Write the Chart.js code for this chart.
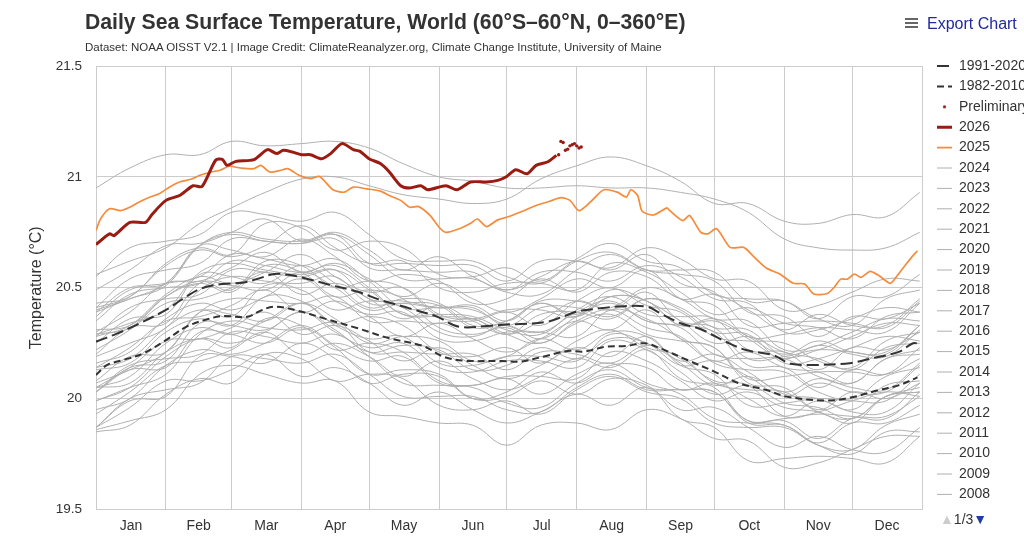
<!DOCTYPE html>
<html>
<head>
<meta charset="utf-8">
<title>Daily Sea Surface Temperature, World</title>
<script src="https://cdn.jsdelivr.net/npm/chart.js@4.4.1/dist/chart.umd.min.js"></script>
<style>
  html, body { margin: 0; padding: 0; background: #fff; overflow: hidden; }
  #wrap { position: relative; width: 1024px; height: 544px; overflow: hidden; font-family: "Liberation Sans", Arial, sans-serif; color: #333; }
  #chart { position: absolute; left: 0; top: 0; }
  .title { position: absolute; left: 85px; top: 10px; font-size: 21.2px; font-weight: bold; line-height: 24px; white-space: nowrap; }
  .subtitle { position: absolute; left: 85px; top: 40px; font-size: 11.5px; line-height: 14px; white-space: nowrap; }
  .export { position: absolute; left: 905px; top: 14px; font-size: 16px; line-height: 20px; color: #1f2a9c; white-space: nowrap; }
  .bars { display: inline-block; width: 13px; height: 2px; background: #666; box-shadow: 0 -4px 0 #666, 0 4px 0 #666; vertical-align: middle; margin: 0 9px 3px 0; }
  .pager { position: absolute; left: 940px; top: 510px; font-size: 14px; line-height: 18px; white-space: nowrap; }
  .pager .up { color: #ccc; }
  .pager .down { color: #1f3f9f; }
</style>
</head>
<body>
<div id="wrap">
  <canvas id="chart" width="1024" height="544"></canvas>
  <div class="title">Daily Sea Surface Temperature, World (60°S–60°N, 0–360°E)</div>
  <div class="subtitle">Dataset: NOAA OISST V2.1 | Image Credit: ClimateReanalyzer.org, Climate Change Institute, University of Maine</div>
  <div class="export"><span class="bars"></span>Export Chart</div>
  <div class="pager"><span class="up">▲</span>1/3<span class="down">▼</span></div>
</div>
<script>
// axis: day of year (leap year, 366 days)
const monthNames = ['Jan', 'Feb', 'Mar', 'Apr', 'May', 'Jun', 'Jul', 'Aug', 'Sep', 'Oct', 'Nov', 'Dec'];
const monthStarts = [0, 31, 60, 91, 121, 152, 182, 213, 244, 274, 305, 335, 366];
const yTicks = [19.5, 20, 20.5, 21, 21.5];

// climatologies
const clim9120Days = [0, 9, 18, 31, 40, 47, 56, 65, 71, 79, 86, 93, 104, 116, 126, 139, 151, 161, 175, 183, 188, 200, 207, 213, 223, 231, 244, 250, 259, 268, 279, 288, 300, 308, 319, 334, 344, 356, 362, 365];
const clim9120 = [20.257, 20.292, 20.333, 20.40, 20.46, 20.498, 20.517, 20.523, 20.538, 20.562, 20.557, 20.542, 20.512, 20.482, 20.445, 20.407, 20.37, 20.324, 20.329, 20.335, 20.336, 20.347, 20.37, 20.392, 20.407, 20.415, 20.415, 20.385, 20.34, 20.313, 20.257, 20.219, 20.196, 20.157, 20.152, 20.16, 20.182, 20.212, 20.25, 20.246];
const clim8210Days = [0, 5, 12, 21, 31, 40, 49, 56, 67, 73, 79, 89, 101, 116, 130, 145, 154, 163, 180, 188, 198, 209, 216, 226, 235, 243, 250, 262, 274, 285, 297, 306, 324, 335, 347, 356, 364];
const clim8210 = [20.107, 20.152, 20.174, 20.204, 20.264, 20.324, 20.357, 20.372, 20.369, 20.397, 20.415, 20.397, 20.362, 20.317, 20.272, 20.237, 20.189, 20.171, 20.17, 20.167, 20.189, 20.215, 20.212, 20.234, 20.237, 20.25, 20.227, 20.174, 20.122, 20.069, 20.039, 20.009, 19.991, 20.006, 20.039, 20.061, 20.096];

// 2026 (final + preliminary)
const days2026 = [0, 6, 8, 15, 22, 25, 31, 37, 43, 47, 53, 56, 58, 62, 70, 76, 80, 83, 87, 91, 95, 100, 104, 109, 114, 117, 121, 126, 130, 135, 139, 144, 147, 155, 160, 166, 173, 178, 182, 186, 191, 195, 200, 204];
const sst2026 = [20.695, 20.743, 20.735, 20.795, 20.795, 20.833, 20.894, 20.916, 20.96, 20.957, 21.075, 21.079, 21.052, 21.07, 21.078, 21.123, 21.105, 21.12, 21.112, 21.10, 21.10, 21.082, 21.105, 21.15, 21.123, 21.115, 21.082, 21.06, 21.022, 20.96, 20.95, 20.96, 20.942, 20.96, 20.942, 20.977, 20.977, 20.984, 21.002, 21.032, 21.014, 21.052, 21.067, 21.097];
const prelimDays = [205, 206, 207, 208, 209, 210, 211, 212, 213, 214, 215];
const prelimSst = [21.10, 21.16, 21.155, 21.12, 21.125, 21.14, 21.145, 21.15, 21.14, 21.13, 21.135];

// 2025
const days2025 = [0, 2, 6, 11, 15, 19, 24, 28, 33, 37, 42, 46, 51, 55, 59, 64, 70, 73, 77, 82, 85, 90, 95, 99, 105, 110, 114, 120, 126, 130, 135, 139, 143, 148, 152, 155, 161, 166, 169, 173, 178, 183, 189, 195, 201, 206, 210, 214, 219, 225, 231, 235, 237, 240, 242, 247, 253, 254, 260, 263, 268, 271, 275, 281, 287, 291, 297, 303, 309, 314, 318, 324, 327, 330, 333, 336, 339, 343, 347, 352, 355, 359, 362, 364];
const sst2025 = [20.758, 20.81, 20.856, 20.848, 20.863, 20.886, 20.909, 20.924, 20.957, 20.977, 20.989, 21.007, 21.022, 21.03, 21.048, 21.04, 21.037, 21.052, 21.022, 21.03, 21.037, 21.007, 20.992, 21.002, 20.942, 20.931, 20.954, 20.946, 20.936, 20.916, 20.894, 20.863, 20.866, 20.826, 20.773, 20.75, 20.766, 20.791, 20.81, 20.776, 20.806, 20.821, 20.845, 20.871, 20.89, 20.906, 20.894, 20.848, 20.886, 20.942, 20.931, 20.909, 20.942, 20.916, 20.845, 20.828, 20.86, 20.85, 20.803, 20.826, 20.75, 20.743, 20.766, 20.682, 20.682, 20.645, 20.589, 20.562, 20.52, 20.517, 20.472, 20.474, 20.501, 20.539, 20.539, 20.562, 20.547, 20.574, 20.554, 20.52, 20.554, 20.607, 20.645, 20.667];

// earlier years, sampled on the 1st and 16th of each month
const grayDays = [0, 15, 31, 46, 60, 75, 91, 106, 121, 136, 152, 167, 182, 197, 213, 228, 244, 259, 274, 289, 305, 320, 335, 350, 365];
const t2024 = [20.95, 21.04, 21.10, 21.10, 21.16, 21.14, 21.15, 21.16, 21.13, 21.06, 21.00, 20.98, 20.95, 20.95, 20.96, 20.95, 20.95, 20.93, 20.90, 20.84, 20.72, 20.68, 20.67, 20.68, 20.75];
const t2023 = [20.56, 20.62, 20.68, 20.79, 20.86, 20.93, 20.99, 21.00, 20.96, 20.92, 20.90, 20.88, 20.90, 20.99, 21.05, 21.09, 21.05, 20.98, 20.88, 20.88, 20.80, 20.79, 20.83, 20.82, 20.93];
const t2022 = [20.41, 20.54, 20.58, 20.61, 20.72, 20.71, 20.70, 20.74, 20.65, 20.54, 20.54, 20.54, 20.48, 20.47, 20.58, 20.65, 20.58, 20.58, 20.57, 20.44, 20.44, 20.36, 20.46, 20.46, 20.56];
const t2021 = [20.40, 20.45, 20.52, 20.69, 20.74, 20.71, 20.70, 20.72, 20.59, 20.58, 20.57, 20.57, 20.49, 20.57, 20.57, 20.53, 20.60, 20.55, 20.45, 20.43, 20.30, 20.31, 20.36, 20.41, 20.39];
const t2020 = [20.49, 20.58, 20.69, 20.70, 20.75, 20.81, 20.71, 20.75, 20.67, 20.58, 20.64, 20.55, 20.49, 20.55, 20.62, 20.58, 20.65, 20.52, 20.48, 20.33, 20.34, 20.35, 20.34, 20.32, 20.44];
const t2019 = [20.43, 20.46, 20.61, 20.68, 20.65, 20.79, 20.77, 20.67, 20.71, 20.68, 20.56, 20.55, 20.59, 20.53, 20.63, 20.70, 20.62, 20.59, 20.47, 20.45, 20.44, 20.36, 20.33, 20.45, 20.49];
const t2018 = [20.39, 20.50, 20.52, 20.69, 20.67, 20.64, 20.72, 20.64, 20.53, 20.56, 20.53, 20.43, 20.45, 20.54, 20.48, 20.57, 20.55, 20.45, 20.47, 20.40, 20.31, 20.38, 20.33, 20.33, 20.45];
const t2017 = [20.41, 20.46, 20.60, 20.67, 20.64, 20.69, 20.78, 20.68, 20.61, 20.62, 20.50, 20.48, 20.52, 20.52, 20.49, 20.61, 20.57, 20.48, 20.38, 20.41, 20.34, 20.32, 20.27, 20.37, 20.39];
const t2016 = [20.55, 20.68, 20.71, 20.74, 20.84, 20.83, 20.80, 20.84, 20.74, 20.63, 20.62, 20.62, 20.55, 20.52, 20.62, 20.66, 20.58, 20.56, 20.53, 20.39, 20.37, 20.28, 20.37, 20.36, 20.43];
const t2015 = [20.39, 20.45, 20.51, 20.69, 20.75, 20.72, 20.71, 20.74, 20.61, 20.61, 20.60, 20.60, 20.53, 20.62, 20.62, 20.59, 20.68, 20.63, 20.54, 20.53, 20.40, 20.42, 20.48, 20.54, 20.53];
const t2014 = [20.30, 20.39, 20.52, 20.53, 20.59, 20.66, 20.57, 20.61, 20.54, 20.46, 20.52, 20.45, 20.39, 20.45, 20.54, 20.50, 20.58, 20.45, 20.42, 20.28, 20.29, 20.32, 20.31, 20.30, 20.43];
const t2013 = [20.29, 20.32, 20.46, 20.53, 20.49, 20.62, 20.60, 20.50, 20.53, 20.50, 20.37, 20.35, 20.39, 20.33, 20.44, 20.50, 20.42, 20.39, 20.28, 20.26, 20.25, 20.17, 20.14, 20.26, 20.30];
const t2012 = [20.20, 20.32, 20.34, 20.52, 20.51, 20.49, 20.57, 20.50, 20.40, 20.43, 20.42, 20.32, 20.35, 20.43, 20.37, 20.46, 20.44, 20.33, 20.35, 20.27, 20.18, 20.24, 20.20, 20.19, 20.31];
const t2011 = [20.16, 20.21, 20.36, 20.43, 20.40, 20.46, 20.54, 20.44, 20.38, 20.39, 20.27, 20.26, 20.30, 20.30, 20.28, 20.40, 20.36, 20.27, 20.17, 20.21, 20.14, 20.12, 20.07, 20.18, 20.20];
const t2010 = [20.37, 20.49, 20.52, 20.55, 20.65, 20.63, 20.60, 20.63, 20.53, 20.41, 20.41, 20.40, 20.33, 20.30, 20.39, 20.44, 20.35, 20.33, 20.30, 20.15, 20.14, 20.05, 20.13, 20.11, 20.18];
const t2009 = [20.19, 20.25, 20.32, 20.49, 20.55, 20.53, 20.52, 20.55, 20.43, 20.43, 20.41, 20.42, 20.35, 20.44, 20.44, 20.41, 20.50, 20.45, 20.36, 20.35, 20.22, 20.24, 20.30, 20.36, 20.35];
const t2008 = [20.14, 20.23, 20.35, 20.37, 20.42, 20.49, 20.39, 20.44, 20.37, 20.28, 20.34, 20.27, 20.21, 20.27, 20.35, 20.31, 20.40, 20.27, 20.23, 20.09, 20.10, 20.12, 20.12, 20.11, 20.23];
const t2007 = [20.31, 20.33, 20.46, 20.52, 20.48, 20.60, 20.57, 20.46, 20.49, 20.45, 20.32, 20.29, 20.32, 20.25, 20.35, 20.40, 20.32, 20.28, 20.16, 20.13, 20.12, 20.03, 20.00, 20.10, 20.14];
const t2006 = [20.25, 20.36, 20.38, 20.56, 20.55, 20.52, 20.60, 20.52, 20.41, 20.45, 20.43, 20.33, 20.35, 20.43, 20.38, 20.46, 20.44, 20.33, 20.36, 20.28, 20.20, 20.26, 20.21, 20.21, 20.33];
const t2005 = [20.28, 20.33, 20.47, 20.55, 20.52, 20.57, 20.65, 20.55, 20.48, 20.50, 20.38, 20.36, 20.40, 20.40, 20.37, 20.49, 20.44, 20.35, 20.25, 20.28, 20.21, 20.18, 20.13, 20.23, 20.25];
const t2004 = [20.28, 20.41, 20.45, 20.47, 20.58, 20.57, 20.55, 20.58, 20.49, 20.38, 20.38, 20.37, 20.31, 20.29, 20.40, 20.46, 20.38, 20.37, 20.36, 20.22, 20.21, 20.13, 20.23, 20.22, 20.30];
const t2003 = [20.29, 20.34, 20.40, 20.57, 20.61, 20.58, 20.56, 20.58, 20.45, 20.44, 20.41, 20.41, 20.33, 20.41, 20.41, 20.37, 20.45, 20.40, 20.30, 20.29, 20.16, 20.18, 20.23, 20.28, 20.26];
const t2002 = [20.22, 20.31, 20.43, 20.45, 20.50, 20.57, 20.47, 20.52, 20.45, 20.36, 20.42, 20.35, 20.29, 20.35, 20.44, 20.40, 20.48, 20.35, 20.32, 20.18, 20.19, 20.22, 20.21, 20.20, 20.33];
const t2001 = [20.14, 20.18, 20.32, 20.40, 20.37, 20.51, 20.49, 20.40, 20.44, 20.41, 20.30, 20.28, 20.33, 20.27, 20.37, 20.43, 20.35, 20.32, 20.20, 20.18, 20.18, 20.10, 20.07, 20.18, 20.22];
const t2000 = [20.08, 20.19, 20.21, 20.39, 20.38, 20.35, 20.43, 20.36, 20.25, 20.28, 20.26, 20.17, 20.19, 20.27, 20.22, 20.30, 20.28, 20.17, 20.20, 20.12, 20.03, 20.09, 20.05, 20.04, 20.16];
const t1999 = [20.05, 20.10, 20.25, 20.32, 20.29, 20.35, 20.43, 20.33, 20.27, 20.28, 20.16, 20.15, 20.19, 20.19, 20.17, 20.29, 20.25, 20.16, 20.06, 20.10, 20.02, 20.00, 19.95, 20.06, 20.08];
const t1998 = [20.35, 20.47, 20.50, 20.52, 20.62, 20.60, 20.57, 20.60, 20.50, 20.38, 20.37, 20.36, 20.29, 20.25, 20.34, 20.38, 20.29, 20.26, 20.23, 20.07, 20.05, 19.95, 20.03, 20.00, 20.07];
const t1997 = [20.07, 20.13, 20.21, 20.39, 20.45, 20.44, 20.43, 20.46, 20.35, 20.35, 20.34, 20.36, 20.29, 20.38, 20.39, 20.36, 20.45, 20.41, 20.32, 20.31, 20.19, 20.22, 20.28, 20.34, 20.33];
const t1996 = [20.05, 20.14, 20.26, 20.27, 20.32, 20.39, 20.29, 20.33, 20.26, 20.17, 20.23, 20.15, 20.09, 20.15, 20.23, 20.19, 20.28, 20.15, 20.11, 19.97, 19.98, 20.00, 19.99, 19.99, 20.11];
const t1995 = [20.13, 20.16, 20.30, 20.36, 20.33, 20.46, 20.44, 20.34, 20.37, 20.33, 20.21, 20.19, 20.23, 20.16, 20.26, 20.31, 20.23, 20.19, 20.07, 20.04, 20.03, 19.94, 19.91, 20.01, 20.05];
const t1994 = [20.03, 20.14, 20.17, 20.34, 20.33, 20.31, 20.39, 20.31, 20.21, 20.24, 20.22, 20.13, 20.15, 20.23, 20.18, 20.27, 20.25, 20.15, 20.17, 20.10, 20.01, 20.07, 20.03, 20.03, 20.15];
const t1993 = [19.95, 20.00, 20.15, 20.22, 20.20, 20.25, 20.33, 20.24, 20.17, 20.19, 20.07, 20.06, 20.10, 20.10, 20.09, 20.21, 20.17, 20.08, 19.99, 20.03, 19.96, 19.94, 19.89, 20.01, 20.03];
const t1992 = [20.03, 20.15, 20.18, 20.20, 20.30, 20.28, 20.25, 20.29, 20.19, 20.07, 20.06, 20.05, 19.98, 19.96, 20.07, 20.13, 20.05, 20.04, 20.03, 19.89, 19.88, 19.80, 19.89, 19.89, 19.97];
const t1991 = [19.99, 20.05, 20.11, 20.29, 20.35, 20.32, 20.31, 20.34, 20.21, 20.21, 20.20, 20.20, 20.13, 20.21, 20.20, 20.16, 20.24, 20.18, 20.08, 20.06, 19.92, 19.94, 19.99, 20.03, 20.01];
const t1990 = [19.93, 20.03, 20.15, 20.17, 20.22, 20.30, 20.20, 20.25, 20.19, 20.10, 20.17, 20.09, 20.04, 20.10, 20.18, 20.14, 20.22, 20.09, 20.05, 19.90, 19.91, 19.93, 19.92, 19.91, 20.03];
const t1989 = [19.85, 19.88, 20.02, 20.09, 20.07, 20.20, 20.18, 20.08, 20.11, 20.09, 19.97, 19.95, 19.99, 19.93, 20.04, 20.10, 20.03, 20.00, 19.89, 19.87, 19.87, 19.79, 19.77, 19.88, 19.93];
const t1988 = [20.03, 20.13, 20.14, 20.30, 20.29, 20.25, 20.32, 20.23, 20.11, 20.13, 20.11, 20.00, 20.01, 20.08, 20.02, 20.09, 20.06, 19.95, 19.96, 19.87, 19.78, 19.83, 19.77, 19.76, 19.87];
const t1987 = [19.99, 20.05, 20.19, 20.27, 20.25, 20.30, 20.39, 20.30, 20.23, 20.25, 20.14, 20.12, 20.17, 20.17, 20.14, 20.26, 20.22, 20.12, 20.02, 20.06, 19.98, 19.96, 19.91, 20.01, 20.03];
const t1986 = [19.87, 20.00, 20.04, 20.07, 20.19, 20.18, 20.16, 20.20, 20.11, 20.01, 20.01, 20.01, 19.95, 19.94, 20.05, 20.11, 20.04, 20.04, 20.03, 19.90, 19.90, 19.82, 19.91, 19.92, 20.01];
const t1985 = [19.86, 19.90, 19.95, 20.11, 20.15, 20.11, 20.07, 20.08, 19.94, 19.92, 19.89, 19.88, 19.79, 19.88, 19.89, 19.86, 19.95, 19.91, 19.82, 19.81, 19.69, 19.71, 19.77, 19.83, 19.83];
const t1984 = [19.87, 19.96, 20.08, 20.08, 20.13, 20.20, 20.10, 20.14, 20.07, 19.97, 20.03, 19.95, 19.89, 19.94, 20.02, 19.97, 20.05, 19.91, 19.87, 19.72, 19.73, 19.74, 19.73, 19.71, 19.83];
const t1983 = [20.05, 20.07, 20.21, 20.27, 20.23, 20.36, 20.33, 20.22, 20.25, 20.21, 20.08, 20.06, 20.09, 20.02, 20.11, 20.16, 20.07, 20.02, 19.91, 19.89, 19.88, 19.79, 19.75, 19.85, 19.85];
const t1982 = [19.87, 19.99, 20.01, 20.19, 20.19, 20.16, 20.25, 20.18, 20.07, 20.11, 20.10, 20.00, 20.03, 20.12, 20.07, 20.15, 20.14, 20.04, 20.07, 20.00, 19.92, 19.99, 19.94, 19.94, 20.07];

const grayYears = [2024, 2023, 2022, 2021, 2020, 2019, 2018, 2017, 2016, 2015, 2014, 2013, 2012, 2011, 2010, 2009, 2008, 2007, 2006, 2005, 2004, 2003, 2002, 2001, 2000, 1999, 1998, 1997, 1996, 1995, 1994, 1993, 1992, 1991, 1990, 1989, 1988, 1987, 1986, 1985, 1984, 1983, 1982];
const graySeries = [t2024, t2023, t2022, t2021, t2020, t2019, t2018, t2017, t2016, t2015, t2014, t2013, t2012, t2011, t2010, t2009, t2008, t2007, t2006, t2005, t2004, t2003, t2002, t2001, t2000, t1999, t1998, t1997, t1996, t1995, t1994, t1993, t1992, t1991, t1990, t1989, t1988, t1987, t1986, t1985, t1984, t1983, t1982];

const DARK = '#333333';
const RED = '#991b12';
const ORANGE = '#f58b3c';
const GRAY = '#b0b0b0';
const GRID = '#cccccc';

function pts(days, vals) {
    return vals.map((v, i) => ({ x: days[i], y: v }));
}

// small dot used as legend symbol for the preliminary series
const dot = document.createElement('canvas');
dot.width = 5; dot.height = 5;
const dctx = dot.getContext('2d');
dctx.fillStyle = RED;
dctx.beginPath(); dctx.arc(2.5, 2.5, 1.6, 0, Math.PI * 2); dctx.fill();

const datasets = [
    { label: '1991-2020', data: pts(clim9120Days, clim9120), borderColor: DARK, borderWidth: 2, borderDash: [12, 5], tension: 0.35 },
    { label: '1982-2010', data: pts(clim8210Days, clim8210), borderColor: DARK, borderWidth: 2, borderDash: [7, 4], tension: 0.35 },
    { label: 'Preliminary', data: pts(prelimDays, prelimSst), borderColor: RED, backgroundColor: RED, showLine: false, pointRadius: 1.7, pointBorderWidth: 0, pointBackgroundColor: RED },
    { label: '2026', data: pts(days2026, sst2026), borderColor: RED, borderWidth: 3, tension: 0.25 },
    { label: '2025', data: pts(days2025, sst2025), borderColor: ORANGE, borderWidth: 1.7, tension: 0.25 }
];
grayYears.forEach((yr, i) => {
    datasets.push({ label: String(yr), data: pts(grayDays, graySeries[i]), borderColor: GRAY, borderWidth: 1, tension: 0.4 });
});

// move the legend column so that it lines up with the plot top, like the original
const legendShift = {
    id: 'legendShift',
    afterLayout(chart) {
        const lg = chart.legend;
        lg.left += 8.6; lg.right += 8.6;
        lg.top -= 13.4; lg.bottom -= 13.4;
    }
};

const monthMids = monthNames.map((m, i) => (monthStarts[i] + monthStarts[i + 1]) / 2);

new Chart(document.getElementById('chart'), {
    type: 'line',
    data: { datasets: datasets },
    options: {
        responsive: false,
        animation: false,
        events: [],
        layout: { padding: { top: 66, right: 0, bottom: 0, left: 0 } },
        elements: { point: { radius: 0 } },
        scales: {
            x: {
                type: 'linear',
                min: 0,
                max: 366,
                afterBuildTicks(scale) {
                    const vals = monthStarts.concat(monthMids).sort((a, b) => a - b);
                    scale.ticks = vals.map(v => ({ value: v }));
                },
                afterFit(scale) { scale.height = 34.5; },
                ticks: {
                    autoSkip: false,
                    maxRotation: 0,
                    padding: 8,
                    color: DARK,
                    font: { size: 14, family: '"Liberation Sans", Arial, sans-serif' },
                    callback(value) {
                        const i = monthMids.indexOf(value);
                        return i >= 0 ? monthNames[i] : '';
                    }
                },
                grid: {
                    drawTicks: false,
                    color(c) { return monthStarts.includes(c.tick.value) ? GRID : 'rgba(0,0,0,0)'; }
                },
                border: { color: GRID }
            },
            y: {
                min: 19.5,
                max: 21.5,
                afterBuildTicks(scale) { scale.ticks = yTicks.map(v => ({ value: v })); },
                afterFit(scale) { scale.width = 96; },
                ticks: {
                    padding: 14,
                    color: DARK,
                    font: { size: 13.5, family: '"Liberation Sans", Arial, sans-serif' },
                    callback(value) { return String(value); }
                },
                grid: { drawTicks: false, color: GRID },
                border: { color: GRID },
                title: {
                    display: true,
                    text: 'Temperature (°C)',
                    color: DARK,
                    font: { size: 16, family: '"Liberation Sans", Arial, sans-serif' },
                    padding: { top: 27, bottom: 0 }
                }
            }
        },
        plugins: {
            tooltip: { enabled: false },
            legend: {
                position: 'right',
                align: 'start',
                maxWidth: 102,
                labels: {
                    usePointStyle: true,
                    pointStyleWidth: 15,
                    padding: 6.4,
                    color: DARK,
                    font: { size: 14, family: '"Liberation Sans", Arial, sans-serif' },
                    generateLabels(chart) {
                        return chart.data.datasets.slice(0, 22).map((ds, i) => ({
                            text: ds.label,
                            strokeStyle: ds.borderColor,
                            fillStyle: ds.borderColor,
                            lineWidth: ds.label === 'Preliminary' ? 0 : ds.borderWidth,
                            lineDash: ds.borderDash || [],
                            pointStyle: ds.label === 'Preliminary' ? dot : 'line',
                            fontColor: DARK,
                            hidden: false,
                            datasetIndex: i
                        }));
                    }
                }
            }
        }
    },
    plugins: [legendShift]
});
</script>
</body>
</html>
